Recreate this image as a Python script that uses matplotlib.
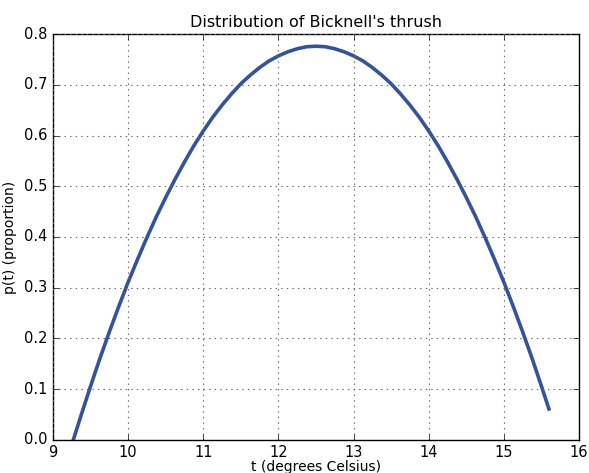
import matplotlib
matplotlib.use("Agg")
import matplotlib.pyplot as plt

# temperatures (degrees Celsius) and proportion
t_vals = [9.27, 9.375, 9.5, 9.625, 9.75, 9.875, 10.0, 10.125, 10.25, 10.375,
          10.5, 10.625, 10.75, 10.875, 11.0, 11.125, 11.25, 11.375, 11.5,
          11.625, 11.75, 11.875, 12.0, 12.125, 12.25, 12.375, 12.5, 12.625,
          12.75, 12.875, 13.0, 13.125, 13.25, 13.375, 13.5, 13.625, 13.75,
          13.875, 14.0, 14.125, 14.25, 14.375, 14.5, 14.625, 14.75, 14.875,
          15.0, 15.125, 15.25, 15.375, 15.5, 15.6]
p_vals = [0.0, 0.049, 0.106, 0.161, 0.213, 0.263, 0.311, 0.356, 0.399, 0.440,
          0.478, 0.514, 0.548, 0.580, 0.609, 0.636, 0.660, 0.682, 0.702,
          0.719, 0.734, 0.747, 0.757, 0.765, 0.771, 0.775, 0.776, 0.775,
          0.771, 0.765, 0.757, 0.747, 0.734, 0.719, 0.702, 0.682, 0.660,
          0.636, 0.609, 0.580, 0.548, 0.514, 0.478, 0.440, 0.399, 0.356,
          0.311, 0.263, 0.213, 0.161, 0.106, 0.061]

plt.style.use("classic")
plt.rcParams["font.family"] = "DejaVu Sans"

fig = plt.figure(figsize=(5.89, 4.73), dpi=100)
fig.patch.set_facecolor("white")
ax = fig.add_axes([0.09, 0.07, 0.893, 0.858])

ax.plot(t_vals, p_vals, color="#33549a", linewidth=2.6)
ax.set_xlim(9, 16)
ax.set_ylim(0.0, 0.8)
ax.set_xticks(range(9, 17))
ax.set_yticks([0.0, 0.1, 0.2, 0.3, 0.4, 0.5, 0.6, 0.7, 0.8])
ax.tick_params(labelsize=10.5, direction="in", top=True, right=True, pad=4)
ax.grid(True, linestyle=":", color="#666666", linewidth=0.8)
ax.set_title("Distribution of Bicknell's thrush", fontsize=11.5)
ax.set_xlabel("t (degrees Celsius)", fontsize=10, labelpad=0)
ax.set_ylabel("p(t) (proportion)", fontsize=10)

fig.savefig("out.png", dpi=100)
